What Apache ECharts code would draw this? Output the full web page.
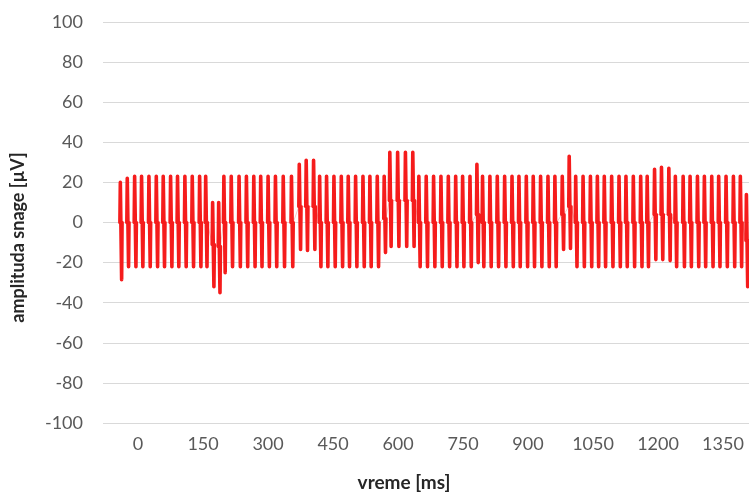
<!DOCTYPE html>
<html>
<head>
<meta charset="utf-8">
<script src="https://cdn.jsdelivr.net/npm/echarts@6/dist/echarts.min.js"></script>
<style>
html,body{margin:0;padding:0;background:#fff;}
#chart{width:749px;height:493px;}
</style>
</head>
<body>
<div id="chart"></div>
<script>
// x-axis tick labels (ms)
const xTickLabels = [0, 150, 300, 450, 600, 750, 900, 1050, 1200, 1350];

// time (ms) of each pulse peak
const pulseTime = [-41, -25, -8, 8, 25, 42, 58, 75, 91, 108, 125, 142, 156, 172, 186, 198,
  215, 233, 250, 267, 283, 300, 317, 335, 354, 372, 388, 405, 419, 435, 452, 469, 485, 502,
  519, 535, 552, 568, 581, 599, 617, 634, 648, 665, 682, 699, 716, 733, 749, 766, 782, 795,
  812, 829, 846, 863, 879, 896, 912, 929, 946, 962, 979, 995, 1010, 1027, 1044, 1060, 1076,
  1093, 1110, 1126, 1143, 1160, 1175, 1192, 1208, 1225, 1240, 1258, 1274, 1291, 1307, 1324,
  1340, 1357, 1374, 1390, 1404];

// positive peak of each pulse (µV)
const pulseHigh = [20, 22, 23, 23, 23, 23, 23, 23, 23, 23, 23, 23, 23, 10, 10, 23,
  23, 23, 23, 23, 23, 23, 23, 23, 23, 29, 31, 31, 23, 23, 23, 23, 23, 23,
  23, 23, 23, 23, 35, 35, 35, 35, 23, 23, 23, 23, 23, 23, 23, 23, 29, 23,
  23, 23, 23, 23, 23, 23, 23, 23, 23, 23, 23, 33, 23, 23, 23, 23, 23,
  23, 23, 23, 23, 23, 23, 26.5, 27.5, 27, 23, 23, 23, 23, 23, 23,
  23, 23, 23, 23, 14];

// negative peak of each pulse (µV)
const pulseLow = [-28.5, -22, -22, -22, -22, -22, -22, -22, -22, -22, -22, -22, -22, -32, -35, -25,
  -22, -22, -22, -22, -22, -22, -22, -22, -22, -13.5, -14, -13.5, -22, -22, -22, -22, -22, -22,
  -22, -22, -22, -15, -12, -12, -12, -12, -22, -22, -22, -22, -22, -22, -22, -22, -20, -22,
  -22, -22, -22, -22, -22, -22, -22, -22, -22, -22, -13.5, -13, -22, -22, -22, -22, -22,
  -22, -22, -22, -22, -22, -22, -18.5, -18.5, -19, -22, -22, -22, -22, -22, -22,
  -22, -22, -22, -22, -32];

// baseline level between pulses (µV)
const pulseBase = [0, 0, 0, 0, 0, 0, 0, 0, 0, 0, 0, 0, 0, -11, -12, 0,
  0, 0, 0, 0, 0, 0, 0, 0, 0, 8, 8, 8, 0, 0, 0, 0, 0, 0,
  0, 0, 0, 2, 11, 11, 11, 11, 0, 0, 0, 0, 0, 0, 0, 0, 4, 0,
  0, 0, 0, 0, 0, 0, 0, 0, 0, 0, 4, 8, 0, 0, 0, 0, 0,
  0, 0, 0, 0, 0, 0, 4, 4, 4, 0, 0, 0, 0, 0, 0,
  0, 0, 0, 0, -9];

const full = [];
const pulses = [];
for (let i = 0; i < pulseTime.length; i++) {
  const t = pulseTime[i];
  const pts = [[t - 1, pulseBase[i]], [t, pulseHigh[i]], [t + 3, pulseLow[i]], [t + 4, pulseBase[i]]];
  pts.forEach(p => { full.push(p); pulses.push(p); });
  pulses.push([t + 4.1, null]);
}

const FONT = 'Lato';
const plain = v => String(v);
const chart = echarts.init(document.getElementById('chart'), null, {renderer: 'canvas'});
chart.setOption({
  animation: false,
  backgroundColor: '#ffffff',
  grid: {left: 103, right: 0, top: 22, bottom: 70, outerBoundsMode: 'none', containLabel: false},
  xAxis: {
    type: 'value', min: -81, max: 1410,
    name: 'vreme [ms]', nameLocation: 'middle', nameGap: 50,
    nameTextStyle: {fontFamily: FONT, fontWeight: 'bold', fontSize: 19, color: '#262626', padding: [0, 44, 0, 0]},
    axisLine: {show: false}, axisTick: {show: false}, splitLine: {show: false},
    axisLabel: {customValues: xTickLabels, formatter: plain, fontFamily: FONT, fontSize: 18, color: '#595959', margin: 12}
  },
  yAxis: {
    type: 'value', min: -100, max: 100, interval: 20,
    name: 'amplituda snage [µV]', nameLocation: 'middle', nameGap: 76,
    nameTextStyle: {fontFamily: FONT, fontWeight: 'bold', fontSize: 18, color: '#262626', padding: [0, 30, 0, 0]},
    axisLine: {show: false}, axisTick: {show: false},
    splitLine: {lineStyle: {color: '#d9d9d9', width: 1}},
    axisLabel: {formatter: plain, fontFamily: FONT, fontSize: 18, color: '#595959', margin: 20}
  },
  series: [
    {type: 'line', data: full, showSymbol: false, silent: true,
     lineStyle: {color: '#f7c8c8', width: 1}},
    {type: 'line', data: pulses, showSymbol: false, silent: true, connectNulls: false,
     lineStyle: {color: '#f51c1c', width: 3.6, join: 'round', cap: 'round'}}
  ]
});
</script>
</body>
</html>
